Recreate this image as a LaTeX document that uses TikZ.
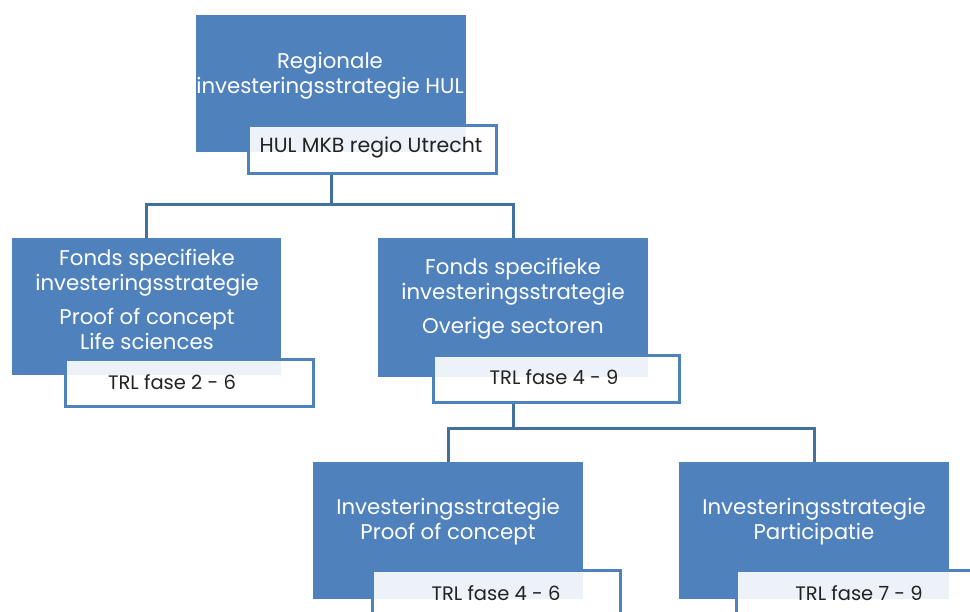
\documentclass[tikz,border=0pt]{standalone}
\usepackage{fontspec}
\setmainfont{Poppins}
\usetikzlibrary{calc}
\definecolor{boxblue}{HTML}{4F81BD}
\definecolor{linkblue}{HTML}{41719C}
\definecolor{labeltext}{HTML}{222222}
\tikzset{
  bluebox/.style={fill=boxblue, draw=none, anchor=north west, inner sep=0pt},
  boxtext/.style={text=white, align=center, inner sep=0pt, font=\fontsize{21.3}{25}\selectfont},
  labelbox/.style={fill=white, fill opacity=0.9, draw=boxblue, line width=3pt, anchor=north west, inner sep=0pt},
  labeltxt/.style={text=labeltext, inner sep=0pt, font=\fontsize{19.5}{22}\selectfont},
  conn/.style={draw=linkblue, line width=3pt}
}
\begin{document}
\begin{tikzpicture}[x=1pt,y=-1pt]
\clip (0,0) rectangle (970,612);
\fill[white] (0,0) rectangle (970,612);
% blue boxes
\node[bluebox, minimum width=270pt, minimum height=137pt] (top) at (196,15) {};
\node[bluebox, minimum width=269pt, minimum height=137pt] (left) at (12,238) {};
\node[bluebox, minimum width=270pt, minimum height=139pt] (mid) at (378,238) {};
\node[bluebox, minimum width=270pt, minimum height=137pt] (botl) at (313,462) {};
\node[bluebox, minimum width=270pt, minimum height=137pt] (botr) at (679,462) {};
% connectors
\coordinate (j1) at ($(top.south)+(0,52)$);
\coordinate (j2) at ($(mid.south)+(0,51)$);
\node[labelbox, minimum width=248pt, minimum height=48pt] (toplab) at (247,124) {};
\node[labelbox, minimum width=248pt, minimum height=47pt] (leftlab) at (64,358) {};
\node[labelbox, minimum width=246pt, minimum height=47pt] (midlab) at (432,354) {};
\node[labelbox, minimum width=248pt, minimum height=48pt] (botllab) at (371,569) {};
\node[labelbox, minimum width=248pt, minimum height=48pt] (botrlab) at (735,569) {};
\draw[conn] (top.south |- toplab.south) -- (j1);
\draw[conn] (left.north) |- (j1) -| (mid.north);
\draw[conn] (mid.south |- midlab.south) -- (j2);
\draw[conn] (botl.north) |- (j2) -| (botr.north);
% texts in blue boxes
\node[boxtext] (toptext) at (330,76) {Regionale\\investeringsstrategie HUL};
\node[boxtext] (lefttext) at (147,299) {Fonds specifieke\\investeringsstrategie\\[9pt]Proof of concept\\Life sciences};
\node[boxtext] (midtext) at (513,299) {Fonds specifieke\\investeringsstrategie\\[9pt]Overige sectoren};
\node[boxtext] (botltext) at (448,522) {Investeringsstrategie\\Proof of concept};
\node[boxtext] (botrtext) at (814,522) {Investeringsstrategie\\Participatie};
% label texts
\node[labeltxt, font=\fontsize{20.5}{22}\selectfont] (toplabtext) at (371,147) {HUL MKB regio Utrecht};
\node[labeltxt] (leftlabtext) at (172,382) {TRL fase 2 - 6};
\node[labeltxt] (midlabtext) at (554,377) {TRL fase 4 - 9};
\node[labeltxt] (botllabtext) at (496,593) {TRL fase 4 - 6};
\node[labeltxt] (botrlabtext) at (859,593) {TRL fase 7 - 9};
\end{tikzpicture}
\end{document}
